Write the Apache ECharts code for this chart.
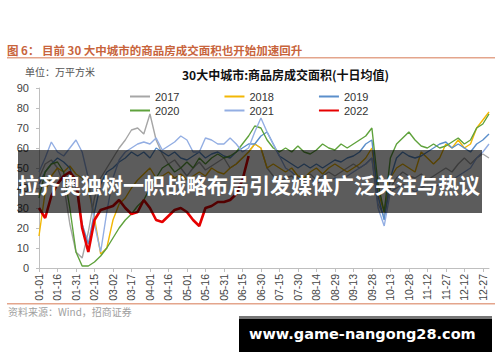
<!DOCTYPE html>
<html>
<head>
<meta charset="utf-8">
<script src="https://cdn.jsdelivr.net/npm/echarts/dist/echarts.min.js"></script>
<style>
html,body{margin:0;padding:0;background:#fff;}
#chart{width:500px;height:362px;}
</style>
</head>
<body>
<div id="chart"></div>
<script>
// ---- data ----
var categories = ["01-01","01-06","01-11","01-16","01-21","01-26","01-31","02-05","02-10","02-15","02-20","02-25","03-02","03-07","03-12","03-17","03-22","03-27","04-01","04-06","04-11","04-16","04-21","04-26","05-01","05-06","05-11","05-16","05-21","05-26","05-31","06-05","06-10","06-15","06-20","06-25","06-30","07-05","07-10","07-15","07-20","07-25","07-30","08-04","08-09","08-14","08-19","08-24","08-29","09-03","09-08","09-13","09-18","09-23","09-28","10-03","10-08","10-13","10-18","10-23","10-28","11-02","11-07","11-12","11-17","11-22","11-27","12-02","12-07","12-12","12-17","12-22","12-27","12-31"];
var seriesNames = ["2017","2018","2019","2020","2021","2022"];
var y2017 = [45,52,54,50,42,22,8,5,18,35,45,50,55,60,64,69,70,67,77,64,57,52,54,50,46,50,53,49,51,53,55,50,52,55,58,62,60,50,46,43,45,46,43,45,47,44,46,48,46,48,50,52,50,52,55,32,26,40,45,48,46,45,47,44,46,48,50,48,52,55,52,55,57,55];
var y2018 = [16,38,46,50,48,51,47,45,40,25,7,10,24,32,35,40,44,47,50,45,46,48,45,47,44,46,48,46,50,48,47,50,52,55,58,62,60,50,52,50,48,50,46,45,48,50,47,50,52,50,48,50,52,55,60,38,28,45,50,52,50,48,58,55,52,55,62,60,64,60,62,70,74,78];
var y2019 = [42,48,52,55,53,50,40,22,12,28,42,48,50,53,55,58,56,58,55,60,58,56,58,55,54,56,58,55,57,58,56,55,58,60,62,62,66,68,62,56,54,52,50,52,50,52,50,52,54,53,55,56,58,62,64,36,24,45,55,58,56,55,56,58,60,62,63,60,62,60,58,62,64,67];
var y2020 = [35,48,52,53,48,30,8,1,1,3,6,10,15,20,24,27,31,34,40,45,50,52,48,50,53,50,55,52,55,57,55,56,58,62,66,71,70,64,60,58,60,58,61,58,57,59,62,60,59,62,60,62,64,66,70,42,28,55,62,65,68,64,61,60,62,60,61,63,65,62,64,70,72,77];
var y2021 = [48,55,63,58,56,60,64,58,45,22,8,28,45,54,58,60,62,63,62,65,59,61,63,66,64,58,58,65,64,62,62,65,62,58,60,68,75,68,62,56,50,48,45,44,45,42,44,43,45,44,46,48,50,52,55,30,21,38,40,42,40,38,40,42,40,42,45,44,46,48,50,55,58,62];
var y2022 = [30,25,36,42,46,48,44,20,8,24,29,30,31,34,30,27,28,34,30,24,23,26,29,30,28,24,21,30,31,33,33,34,37,44,56];
var yTicks = [0,10,20,30,40,50,60,70,80,90];
var seriesColors = ["#A6A6A6","#F2B705","#5B8FCB","#5FA23C","#93AEE3","#E60000"];
var seriesWidths = [1.4,1.4,1.4,1.4,1.4,2.6];
var seriesData = [y2017,y2018,y2019,y2020,y2021,y2022];

var chart = echarts.init(document.getElementById('chart'), null, {renderer:'svg', width:500, height:362});

var series = seriesNames.map(function(n,i){
  return {
    name:n, type:'line', data:seriesData[i], showSymbol:false, symbol:'none',
    lineStyle:{color:seriesColors[i], width:seriesWidths[i]},
    itemStyle:{color:seriesColors[i]}, z: 2+i, animation:false
  };
});

var option = {
  animation:false,
  backgroundColor:'#ffffff',
  title:{
    text:'30大中城市:商品房成交面积(十日均值)',
    left:182, top:68, padding:0,
    textStyle:{fontSize:12, fontWeight:'bold', color:'#111', fontFamily:'Noto Sans CJK SC'}
  },
  legend:[
    {data:seriesNames.slice(0,3), left:130, top:91, padding:0, itemWidth:20, itemHeight:2, itemGap:45, icon:'rect',
     textStyle:{fontSize:11, color:'#333', fontFamily:'Liberation Sans'}},
    {data:seriesNames.slice(3,6), left:130, top:105, padding:0, itemWidth:20, itemHeight:2, itemGap:45, icon:'rect',
     textStyle:{fontSize:11, color:'#333', fontFamily:'Liberation Sans'}}
  ],
  grid:{left:39, right:11, top:88, bottom:94, containLabel:false},
  xAxis:{
    type:'category', data:categories, boundaryGap:false,
    axisLine:{lineStyle:{color:'#BFBFBF'}},
    axisTick:{interval:2, length:4, lineStyle:{color:'#BFBFBF'}},
    axisLabel:{interval:2, rotate:90, fontSize:10.5, color:'#444', margin:6, fontFamily:'Liberation Sans'}
  },
  yAxis:{
    type:'value', min:0, max:90, interval:10,
    axisLine:{show:true, lineStyle:{color:'#BFBFBF'}},
    axisTick:{show:true, length:3, lineStyle:{color:'#BFBFBF'}},
    splitLine:{show:false},
    axisLabel:{fontSize:11, color:'#444', margin:10, fontFamily:'Liberation Sans',
      formatter:function(v){ return yTicks.indexOf(v) >= 0 ? String(v) : ''; }}
  },
  series:series,
  graphic:[
    {type:'text', left:7, top:44, z:100, style:{text:'图 6： 目前 30 大中城市的商品房成交面积也开始加速回升', fill:'#C8643C', font:'bold 11.5px "Noto Sans CJK SC"'}},
    {type:'rect', shape:{x:7, y:57, width:488, height:1.5}, style:{fill:'#E4A58C'}, z:100},
    {type:'text', left:25, top:66, z:100, style:{text:'单位：万平方米', fill:'#555', font:'10px "Noto Sans CJK SC"'}},
    {type:'rect', shape:{x:7, y:303, width:488, height:1.5}, style:{fill:'#E4A58C'}, z:100},
    {type:'text', left:8, top:306, z:100, style:{text:'资料来源：Wind，招商证券', fill:'#A0A0A0', font:'10px "Noto Sans CJK SC"'}},
    {type:'rect', shape:{x:18, y:150, width:464, height:63}, style:{fill:'rgba(0,0,0,0.64)'}, z:200},
    {type:'text', left:18, top:173, z:201, style:{text:'拉齐奥独树一帜战略布局引发媒体广泛关注与热议', fill:'#ffffff', font:'bold 21px "Noto Sans CJK SC"', textVerticalAlign:'middle'}},
    {type:'rect', shape:{x:239, y:316, width:253, height:3}, style:{fill:'#777777'}, z:200},
    {type:'rect', shape:{x:239, y:319, width:253, height:33}, style:{fill:'#000000'}, z:200},
    {type:'text', left:249, top:326, z:201, style:{text:'www.game-nangong28.com', fill:'#ffffff', font:'bold 14.5px "DejaVu Sans"'}}
  ]
};
chart.setOption(option);
</script>
</body>
</html>
